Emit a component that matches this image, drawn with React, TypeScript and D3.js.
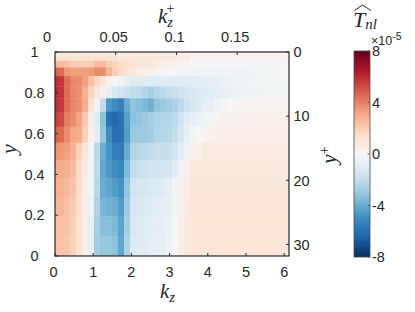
import React from 'react';
import * as d3 from 'd3';

// ---- data ----
const dk = 0.15708; // spanwise wavenumber step
const nCols = 40;
const kzCenters = d3.range(nCols).map((n) => n * dk);
const kzMax = 6.1261;
const reTau = 31.8;
// wall-normal cell edges (from wall y=1 to centre y=0)
const yEdges = [1, 0.9952, 0.9808, 0.9569, 0.9239, 0.8819, 0.8315, 0.773, 0.7071, 0.6344, 0.5556, 0.4714, 0.3827, 0.2903, 0.1951, 0.098, 0];

const R0 = [0.5,0.5,0.5,0.5,0.5,0.5,0.5,0.5,0.5,0.5, 0.4,0.4,0.4,0.4,0.4,0.4,0.4,0.4,0.4,0.4, 0.4,0.4,0.4,0.2,0.2,0.2,0.2,0.2,0.2,0.2, 0.2,0.2,0.2,0.2,0.2,0.2,0.2,0.2,0.2,0.2];
const R1 = [0.8,0.8,0.8,0.8,0.8,0.8,0.8,0.8,0.8,0.8, 0.6,0.6,0.6,0.6,0.6,0.6,0.6,0.6,0.6,0.6, 0.6,0.6,0.5,0.2,0.2,0.2,0.2,0.2,0.2,0.2, 0.2,0.2,0.2,0.2,0.2,0.2,0.2,0.2,0.2,0.2];
const R2 = [1.3,1.2,1.2,1.2,1.2,1.2,1.2,1.3,1.3,1.2, 1.1,1.0,1.0,1.0,0.9,0.9,0.9,0.9,0.9,0.9, 0.8,0.8,0.7,0.2,0.1,0.1,0.1,0.1,0.1,0.1, 0.1,0.1,0.1,0.1,0.1,0.1,0.1,0.1,0.1,0.1];
const R3 = [2.6,2.5,2.4,2.1,2.0,2.0,2.1,2.5,2.5,2.0, 1.8,1.6,1.3,1.2,1.1,1.0,0.9,0.7,0.5,0.4, 0.3,0.3,0.2,0.0,-0.1,-0.1,-0.1,-0.1,-0.1,-0.1, -0.1,-0.1,-0.1,-0.1,-0.1,-0.1,-0.1,-0.1,-0.1,-0.1];
const R4 = [4.7,4.5,3.5,3.3,3.3,3.3,3.4,3.8,3.7,2.7, 2.0,1.5,1.1,0.9,0.6,0.5,0.4,0.2,0.1,0.0, -0.1,-0.2,-0.2,-0.3,-0.3,-0.3,-0.3,-0.3,-0.3,-0.3, -0.3,-0.3,-0.2,-0.2,-0.2,-0.2,-0.2,-0.1,-0.1,-0.1];
const R5 = [5.9,5.7,4.5,3.9,3.8,3.3,2.4,1.7,1.0,0.5, 0.1,-0.4,-0.7,-0.9,-1.0,-1.0,-1.0,-1.0,-1.0,-1.0, -1.0,-1.0,-1.0,-0.9,-0.9,-0.8,-0.7,-0.6,-0.5,-0.5, -0.4,-0.4,-0.3,-0.3,-0.2,-0.2,-0.2,-0.1,-0.1,-0.1];
const R6 = [6.1,5.7,4.5,3.9,3.7,2.9,1.8,0.9,0.3,-0.6, -1.3,-1.6,-1.8,-2.0,-2.1,-2.4,-2.7,-2.3,-2.1,-1.9, -1.8,-1.6,-1.4,-1.2,-1.1,-1.0,-0.9,-0.8,-0.7,-0.6, -0.5,-0.4,-0.3,-0.3,-0.3,-0.2,-0.2,-0.2,-0.2,-0.2];
const R7 = [5.9,5.7,4.5,3.9,3.7,3.0,1.2,-0.3,-2.0,-4.6, -5.0,-5.4,-4.0,-3.2,-3.4,-3.6,-3.9,-3.2,-3.0,-2.8, -2.5,-2.1,-1.7,-1.4,-1.1,-0.8,-0.6,-0.4,-0.2,0.0, 0.1,0.2,0.2,0.2,0.2,0.2,0.2,0.2,0.2,0.2];
const R8 = [5.5,5.3,4.1,3.8,3.2,2.2,0.6,-1.0,-3.3,-6.0, -6.3,-6.0,-4.4,-3.3,-3.2,-3.0,-2.7,-2.5,-2.4,-2.3, -2.1,-1.6,-1.0,-0.6,-0.5,-0.3,-0.1,0.1,0.3,0.3, 0.3,0.3,0.4,0.4,0.4,0.4,0.4,0.4,0.4,0.4];
const R9 = [4.7,4.5,3.8,3.1,3.0,1.9,0.4,-0.8,-3.1,-5.1, -6.0,-6.0,-4.5,-3.0,-2.9,-2.9,-2.8,-2.4,-2.3,-2.2, -1.9,-1.3,-0.7,-0.2,0.0,0.2,0.3,0.5,0.5,0.5, 0.5,0.5,0.5,0.5,0.5,0.5,0.5,0.5,0.5,0.5];
const R10 = [3.6,3.5,3.3,2.8,1.9,0.9,-0.2,-2.2,-4.0,-4.8, -5.5,-5.6,-4.0,-2.5,-2.2,-2.1,-2.0,-1.9,-1.9,-1.8, -1.6,-0.9,-0.3,0.3,0.4,0.7,0.7,0.7,0.7,0.7, 0.7,0.7,0.7,0.7,0.7,0.7,0.7,0.7,0.7,0.7];
const R11 = [3.0,3.0,2.9,2.5,1.6,0.7,-0.3,-2.1,-4.1,-4.6, -5.0,-5.2,-3.6,-2.0,-1.8,-1.7,-1.6,-1.5,-1.5,-1.4, -0.9,-0.3,0.4,0.8,0.8,0.8,0.8,0.8,0.8,0.8, 0.8,0.8,0.8,0.8,0.8,0.8,0.8,0.8,0.8,0.8];
const R12 = [2.8,2.8,2.6,2.3,1.5,0.6,-0.4,-2.2,-4.0,-4.2, -4.5,-4.8,-3.2,-1.6,-1.4,-1.3,-1.2,-1.1,-1.0,-0.8, -0.3,0.3,0.6,0.9,0.9,0.9,0.9,0.9,0.9,0.9, 0.9,0.9,0.9,0.9,0.9,0.9,0.9,0.9,0.9,0.9];
const R13 = [2.6,2.6,2.4,2.1,1.3,0.5,-0.5,-2.5,-3.7,-3.8, -4.0,-4.5,-2.9,-1.4,-1.2,-1.1,-1.0,-0.9,-0.8,-0.6, -0.2,0.4,0.7,0.95,0.95,0.95,0.95,0.95,0.95,0.95, 0.95,0.95,0.95,0.95,0.95,0.95,0.95,0.95,0.95,0.95];
const R14 = [2.4,2.4,2.3,2.0,1.2,0.5,-0.7,-2.7,-3.4,-3.4, -3.6,-4.3,-2.7,-1.3,-1.1,-1.0,-0.9,-0.8,-0.7,-0.5, -0.1,0.5,0.8,1.0,1.0,1.0,1.0,1.0,1.0,1.0, 1.0,1.0,1.0,1.0,1.0,1.0,1.0,1.0,1.0,1.0];
const R15 = [2.3,2.3,2.2,1.9,1.1,0.5,-0.8,-2.8,-3.1,-3.1, -3.3,-4.2,-2.5,-1.2,-1.0,-0.9,-0.8,-0.8,-0.6,-0.4, 0.0,0.6,0.8,1.0,1.0,1.0,1.0,1.0,1.0,1.0, 1.0,1.0,1.0,1.0,1.0,1.0,1.0,1.0,1.0,1.0];
const Tnl = [R0, R1, R2, R3, R4, R5, R6, R7, R8, R9, R10, R11, R12, R13, R14, R15];

const xTicks = [0, 1, 2, 3, 4, 5, 6];
const yTicks = [0, 0.2, 0.4, 0.6, 0.8, 1];
const kzPlusTicks = [0.05, 0.1, 0.15];
const kzPlusLabels = [0, 0.05, 0.1, 0.15];
const yPlusTicks = [0, 10, 20, 30];
const cbTicks = [8, 4, 0, -4, -8];
const rdbu = ['#67001f', '#b2182b', '#d6604d', '#f4a582', '#fddbc7', '#f7f7f7', '#d1e5f0', '#92c5de', '#4393c3', '#2166ac', '#053061'];

// ---- layout ----
const W = 415, H = 312;
const L = 55, R = 289, T = 52, B = 256;
const cbX = 354, cbW = 16, cbT = 51, cbB = 257;
const ink = '#262626';
const sans = '"Liberation Sans", Arial, Helvetica, sans-serif';
const serif = '"Liberation Serif", "Times New Roman", serif';

export default function App() {
  const x = d3.scaleLinear().domain([0, kzMax]).range([L, R]);
  const y = d3.scaleLinear().domain([0, 1]).range([B, T]);
  const xTop = d3.scaleLinear().domain([0, kzMax / reTau]).range([L, R]);
  const yRight = d3.scaleLinear().domain([0, reTau]).range([T, B]);
  const cb = d3.scaleLinear().domain([-8, 8]).range([cbB, cbT]);
  const stops = d3.range(11).map((i) => 8 - 1.6 * i);
  const color = d3.scaleLinear<string>().domain(stops).range(rdbu).interpolate(d3.interpolateRgb).clamp(true);

  const cells: JSX.Element[] = [];
  Tnl.forEach((row, k) => {
    const y0 = y(yEdges[k]);
    const y1 = y(yEdges[k + 1]);
    row.forEach((v, n) => {
      const a = Math.max(0, kzCenters[n] - dk / 2);
      const b = Math.min(kzMax, kzCenters[n] + dk / 2);
      const x0 = x(a), x1 = x(b);
      cells.push(
        <rect key={`${k}-${n}`} x={x0} y={y0} width={x1 - x0 + 0.4} height={y1 - y0 + 0.4} fill={color(v)} />
      );
    });
  });

  // gradient stops ordered bottom (-8) to top (+8)
  const gradStops = stops.map((s, i) => ({ off: (s + 8) / 16, c: rdbu[i] })).reverse();

  const tl = 3;
  return (
    <svg width={W} height={H} style={{ position: 'absolute', left: 0, top: 0, background: '#fff' }}>
      <defs>
        <linearGradient id="cbg" x1="0" y1="1" x2="0" y2="0">
          {gradStops.map((g, i) => (
            <stop key={i} offset={g.off} stopColor={g.c} />
          ))}
        </linearGradient>
        <clipPath id="pc"><rect x={L} y={T} width={R - L} height={B - T} /></clipPath>
      </defs>
      <rect x={0} y={0} width={W} height={H} fill="#fff" />
      <g clipPath="url(#pc)">{cells}</g>

      {/* box */}
      <rect x={L} y={T} width={R - L} height={B - T} fill="none" stroke={ink} strokeWidth={1.2} />
      {/* bottom ticks */}
      {xTicks.map((t) => (
        <g key={`bx${t}`}>
          <line x1={x(t)} x2={x(t)} y1={B} y2={B - tl} stroke={ink} strokeWidth={1} />
          <text x={x(t) - (t === 0 ? 1.5 : 0)} y={276.5} fontSize={14.5} fontFamily={sans} fill={ink} textAnchor="middle">{t}</text>
        </g>
      ))}
      {/* left ticks */}
      {yTicks.map((t) => (
        <g key={`ly${t}`}>
          <line x1={L} x2={L + tl} y1={y(t)} y2={y(t)} stroke={ink} strokeWidth={1} />
          <text x={34.5} y={y(t) + 5.2} fontSize={14.5} fontFamily={sans} fill={ink} textAnchor="middle">{t}</text>
        </g>
      ))}
      {/* top ticks */}
      {kzPlusTicks.map((t) => (
        <line key={`tx${t}`} x1={xTop(t)} x2={xTop(t)} y1={T} y2={T + tl} stroke={ink} strokeWidth={1} />
      ))}
      {kzPlusLabels.map((t) => (
        <text key={`txl${t}`} x={xTop(t) - (t === 0 ? 8 : 2)} y={41.5} fontSize={14.5} fontFamily={sans} fill={ink} textAnchor="middle">{t}</text>
      ))}
      {/* right ticks */}
      {yPlusTicks.map((t) => (
        <g key={`ry${t}`}>
          <line x1={R} x2={R - tl} y1={yRight(t)} y2={yRight(t)} stroke={ink} strokeWidth={1} />
          <text x={293.5} y={yRight(t) + 5.2} fontSize={14.5} fontFamily={sans} fill={ink} textAnchor="start">{t}</text>
        </g>
      ))}

      {/* axis titles */}
      <text x={158} y={23} fontSize={21} fontFamily={serif} fontStyle="italic" fill={ink}>
        k<tspan fontSize={14.5} dy={4}>z</tspan><tspan fontSize={14} fontStyle="normal" dx={-6.5} dy={-14.5}>+</tspan>
      </text>

      <text x={160} y={298} fontSize={21} fontFamily={serif} fontStyle="italic" fill={ink}>
        k<tspan fontSize={14.5} dy={4}>z</tspan>
      </text>

      <text transform="translate(16,149) rotate(-90)" fontSize={22} fontFamily={serif} fontStyle="italic" fill={ink} textAnchor="middle">y</text>
      <text transform="translate(336,155) rotate(-90)" fontSize={21} fontFamily={serif} fontStyle="italic" fill={ink} textAnchor="middle">
        y<tspan fontSize={14.5} fontStyle="normal" dy={-7}>+</tspan>
      </text>

      {/* colorbar */}
      <rect x={cbX} y={cbT} width={cbW} height={cbB - cbT} fill="url(#cbg)" stroke="#4d4d4d" strokeWidth={0.8} />
      {cbTicks.map((t) => (
        <g key={`cb${t}`}>
          <line x1={cbX + cbW} x2={cbX + cbW - 2.5} y1={cb(t)} y2={cb(t)} stroke="#4d4d4d" strokeWidth={0.8} />
          <text x={372} y={cb(t) + 5.2} fontSize={14.5} fontFamily={sans} fill={ink}>{t}</text>
        </g>
      ))}
      <text x={371} y={45} fontSize={12.5} fontFamily={sans} fill={ink}>
        ×10<tspan fontSize={10.5} dy={-5}>-5</tspan>
      </text>

      {/* colorbar title: T-hat with subscript nl */}
      <text x={353} y={26.5} fontSize={22} fontFamily={serif} fontStyle="italic" fill={ink}>
        T<tspan fontSize={15} dy={2}>nl</tspan>
      </text>
      <path d="M354.5,10.5 L362.5,5 L371,10.5" fill="none" stroke={ink} strokeWidth={1} />
    </svg>
  );
}
